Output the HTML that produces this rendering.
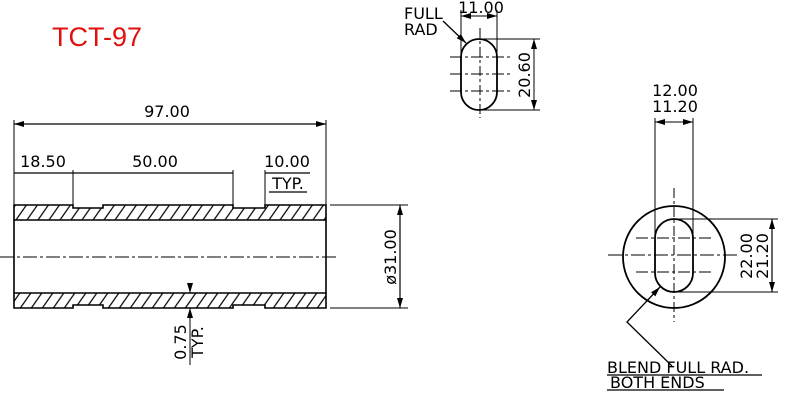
<!DOCTYPE html>
<html><head><meta charset="utf-8"><style>
html,body{margin:0;padding:0;background:#fff;}
svg{display:block;}
text{font-family:"DejaVu Sans","Liberation Sans",sans-serif;fill:#000;}
</style></head><body>
<svg width="800" height="403" viewBox="0 0 800 403" xmlns="http://www.w3.org/2000/svg">
<defs>
<pattern id="h" patternUnits="userSpaceOnUse" width="11" height="16" patternTransform="skewX(-35)">
<line x1="5" y1="0" x2="5" y2="16" stroke="#000" stroke-width="1.5"/>
</pattern>
<marker id="a" viewBox="0 0 10 6" refX="10" refY="3" markerWidth="10" markerHeight="6" orient="auto-start-reverse" markerUnits="userSpaceOnUse"><path d="M0,0L10,3L0,6z" fill="#000"/></marker>
</defs>
<text x="52" y="46" font-size="27" style="fill:#e01010;font-family:'Liberation Sans',sans-serif">TCT-97</text>

<g stroke="#000" stroke-width="1.6" fill="none">
<path d="M14,205 H73 V208 H103 V205 H233 V208 H265 V205 H326 V220 H14 Z" fill="url(#h)"/>
<path d="M14,293 H326 V308 H265 V305 H233 V308 H103 V305 H73 V308 H14 Z" fill="url(#h)"/>
<line x1="14" y1="220" x2="14" y2="293"/>
<line x1="326" y1="220" x2="326" y2="293"/>
<line x1="0" y1="257" x2="336" y2="257" stroke-width="1" stroke-dasharray="14,3,3,3"/>
<line x1="14" y1="120" x2="14" y2="205" stroke-width="1"/>
<line x1="326" y1="120" x2="326" y2="205" stroke-width="1"/>
<line x1="14" y1="124" x2="326" y2="124" stroke-width="1.2" marker-start="url(#a)" marker-end="url(#a)"/>
<line x1="14" y1="173" x2="233" y2="173" stroke-width="1.2"/>
<line x1="73" y1="170" x2="73" y2="205" stroke-width="1"/>
<line x1="233" y1="170" x2="233" y2="205" stroke-width="1"/>
<line x1="265" y1="170" x2="265" y2="205" stroke-width="1"/>
<line x1="265" y1="173" x2="310" y2="173" stroke-width="1.2"/>
<line x1="269" y1="192" x2="307" y2="192" stroke-width="1.2"/>
<line x1="330" y1="205" x2="408" y2="205" stroke-width="1"/>
<line x1="330" y1="308" x2="408" y2="308" stroke-width="1"/>
<line x1="400" y1="205" x2="400" y2="308" stroke-width="1.2" marker-start="url(#a)" marker-end="url(#a)"/>
<line x1="190" y1="285" x2="190" y2="293" stroke-width="1" marker-end="url(#a)"/>
<line x1="190" y1="330" x2="190" y2="308" stroke-width="1" marker-end="url(#a)"/>
<line x1="190" y1="318" x2="190" y2="365" stroke-width="1"/>

<rect x="461" y="39" width="36" height="71" rx="18" stroke-width="1.8"/>
<line x1="480" y1="28" x2="480" y2="118" stroke-width="1" stroke-dasharray="10,3,3,3"/>
<line x1="450" y1="57" x2="510" y2="57" stroke-width="1" stroke-dasharray="12,3,3,3"/>
<line x1="450" y1="74" x2="512" y2="74" stroke-width="1" stroke-dasharray="12,3,3,3"/>
<line x1="450" y1="91" x2="510" y2="91" stroke-width="1" stroke-dasharray="12,3,3,3"/>
<line x1="461" y1="10" x2="461" y2="55" stroke-width="1"/>
<line x1="497" y1="10" x2="497" y2="55" stroke-width="1"/>
<line x1="461" y1="16" x2="497" y2="16" stroke-width="1" marker-start="url(#a)" marker-end="url(#a)"/>
<line x1="480" y1="39" x2="540" y2="39" stroke-width="1"/>
<line x1="480" y1="110" x2="540" y2="110" stroke-width="1"/>
<line x1="534" y1="39" x2="534" y2="110" stroke-width="1" marker-start="url(#a)" marker-end="url(#a)"/>
<line x1="443" y1="21" x2="466" y2="43" stroke-width="1.3" marker-end="url(#a)"/>

<circle cx="674" cy="257" r="51" stroke-width="1.8"/>
<rect x="655" y="219" width="38" height="73" rx="19" stroke-width="1.8"/>
<line x1="674" y1="188" x2="674" y2="322" stroke-width="1" stroke-dasharray="10,3,3,3"/>
<line x1="608" y1="255" x2="740" y2="255" stroke-width="1" stroke-dasharray="14,3,3,3"/>
<line x1="636" y1="238" x2="712" y2="238" stroke-width="1" stroke-dasharray="12,3,3,3"/>
<line x1="636" y1="272" x2="712" y2="272" stroke-width="1" stroke-dasharray="12,3,3,3"/>
<line x1="655" y1="118" x2="655" y2="257" stroke-width="1"/>
<line x1="693" y1="118" x2="693" y2="257" stroke-width="1"/>
<line x1="655" y1="122" x2="693" y2="122" stroke-width="1" marker-start="url(#a)" marker-end="url(#a)"/>
<line x1="674" y1="219" x2="778" y2="219" stroke-width="1"/>
<line x1="674" y1="292" x2="778" y2="292" stroke-width="1"/>
<line x1="772" y1="219" x2="772" y2="292" stroke-width="1.2" marker-start="url(#a)" marker-end="url(#a)"/>
<polyline points="672,366 627,322 660,287" stroke-width="1.3" marker-end="url(#a)"/>
<line x1="607" y1="375" x2="762" y2="375" stroke-width="1.2"/>
<line x1="607" y1="390" x2="724" y2="390" stroke-width="1.2"/>
</g>

<g font-size="16">
<text x="167" y="117" text-anchor="middle">97.00</text>
<text x="43" y="167" text-anchor="middle">18.50</text>
<text x="155" y="167" text-anchor="middle">50.00</text>
<text x="287" y="167" text-anchor="middle">10.00</text>
<text x="288" y="189" text-anchor="middle">TYP.</text>
<text transform="translate(396,257) rotate(-90)" text-anchor="middle">ø31.00</text>
<text transform="translate(186,342) rotate(-90)" text-anchor="middle">0.75</text>
<text transform="translate(203,342) rotate(-90)" text-anchor="middle">TYP.</text>
<text x="404" y="19">FULL</text>
<text x="404" y="35">RAD</text>
<text x="481" y="13" text-anchor="middle">11.00</text>
<text transform="translate(530,75) rotate(-90)" text-anchor="middle">20.60</text>
<text x="675" y="96" text-anchor="middle">12.00</text>
<text x="675" y="112" text-anchor="middle">11.20</text>
<text transform="translate(752,256) rotate(-90)" text-anchor="middle">22.00</text>
<text transform="translate(768,256) rotate(-90)" text-anchor="middle">21.20</text>
<text x="607" y="373">BLEND FULL RAD.</text>
<text x="610" y="388">BOTH ENDS</text>
</g>
</svg>
</body></html>
